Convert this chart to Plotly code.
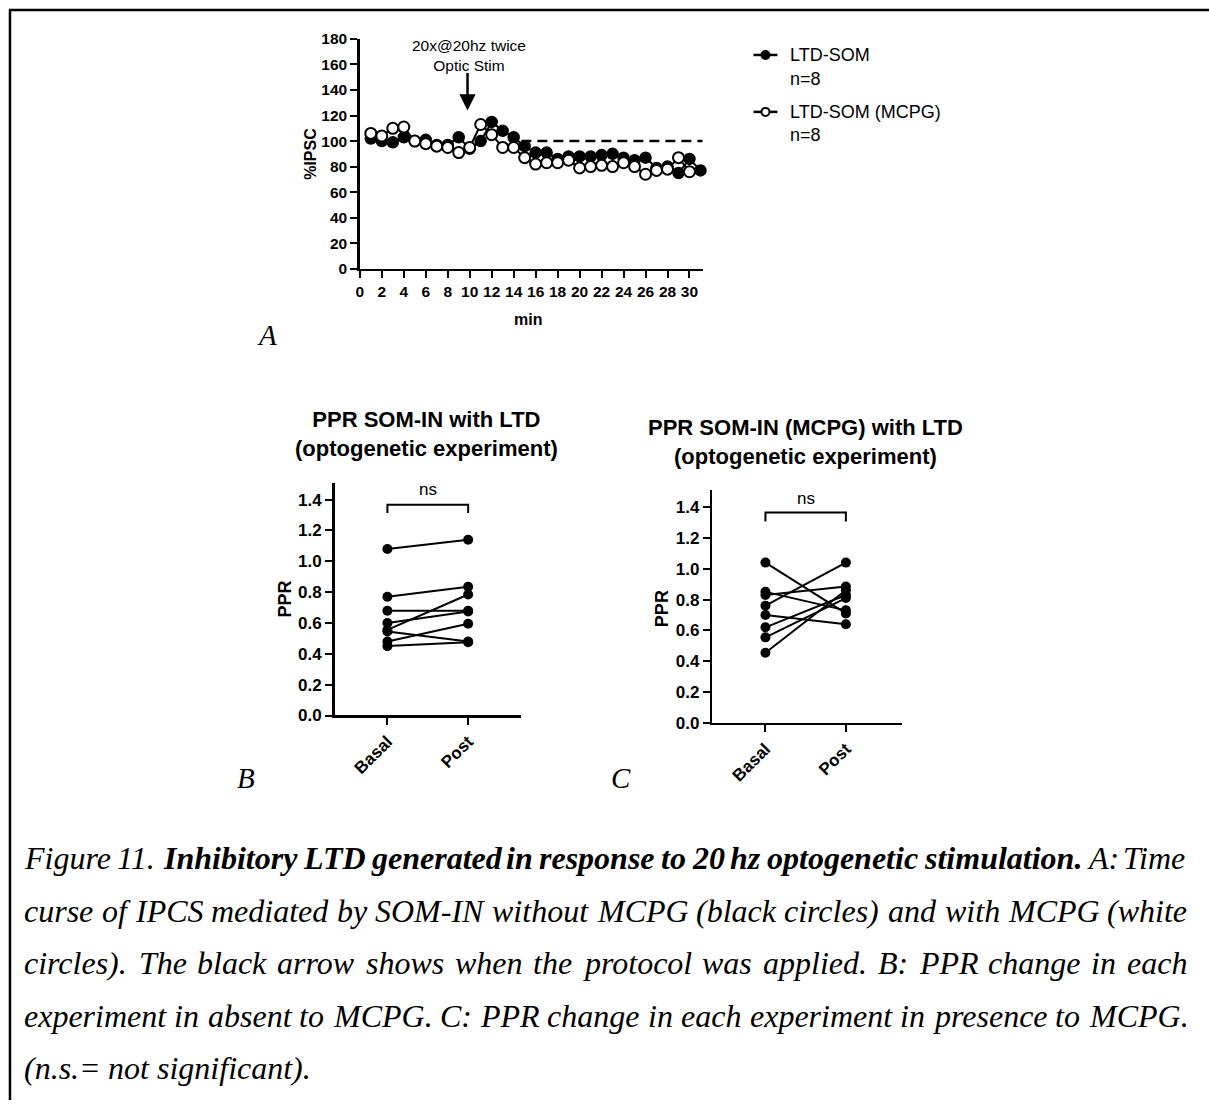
import plotly.graph_objects as go

W, H = 1209, 1110
# small empirical correction of the screenshot mapping
Y_SCALE, Y_OFF, X_OFF = 0.984, 7.0, 1.0


def px(x):
    return (x - X_OFF) / W


def py(y):
    return 1 - ((y - Y_OFF) / Y_SCALE) / H


# ---------------- data ----------------
time_min = list(range(1, 32))
ltd_som = [102, 100, 99, 103, 100, 101, 97, 97, 103, 94, 100, 115, 108, 103, 96, 91,
           91, 86, 88, 88, 88, 89, 90, 87, 85, 87, 79, 80, 75, 86, 77]
time_min_mcpg = list(range(1, 31))
ltd_som_mcpg = [106, 104, 110, 111, 100, 98, 96, 95, 91, 95, 113, 105, 95, 95, 87, 82,
                83, 83, 85, 79, 80, 81, 80, 83, 80, 74, 77, 78, 87, 76]
baseline_level = 100
stim_time = 9.8

conditions = ["Basal", "Post"]
ppr_b_basal = [1.08, 0.77, 0.68, 0.60, 0.555, 0.545, 0.48, 0.45]
ppr_b_post = [1.14, 0.835, 0.68, 0.675, 0.785, 0.48, 0.595, 0.475]
ppr_c_basal = [1.04, 0.85, 0.83, 0.76, 0.70, 0.62, 0.555, 0.455]
ppr_c_post = [0.71, 0.73, 0.885, 1.04, 0.64, 0.83, 0.81, 0.86]

caption = [
    [("Figure 11.", False),
     ("Inhibitory LTD generated in response to 20 hz optogenetic stimulation.", True),
     ("A: Time", False)],
    [("curse of IPCS mediated by SOM-IN without MCPG (black circles) and with MCPG (white", False)],
    [("circles). The black arrow shows when the protocol was applied. B: PPR change in each", False)],
    [("experiment in absent to MCPG. C: PPR change in each experiment in presence to MCPG.", False)],
    [("(n.s.= not significant).", False)],
]

SANS = "Liberation Sans, Arial, Helvetica, sans-serif"
SERIF = "Liberation Serif, Times New Roman, serif"

fig = go.Figure()

# Panel A
fig.add_trace(go.Scatter(
    x=time_min, y=ltd_som, mode="lines+markers", xaxis="x", yaxis="y",
    line=dict(color="black", width=2),
    marker=dict(symbol="circle", size=11, color="black", line=dict(color="black", width=1.5)),
    cliponaxis=False, showlegend=False, name="LTD-SOM"))
fig.add_trace(go.Scatter(
    x=time_min_mcpg, y=ltd_som_mcpg, mode="lines+markers", xaxis="x", yaxis="y",
    line=dict(color="black", width=2),
    marker=dict(symbol="circle", size=11, color="white", line=dict(color="black", width=2)),
    cliponaxis=False, showlegend=False, name="LTD-SOM (MCPG)"))

# Panels B and C
for xa, ya, basal, post in [("x2", "y2", ppr_b_basal, ppr_b_post),
                            ("x3", "y3", ppr_c_basal, ppr_c_post)]:
    for b, p in zip(basal, post):
        fig.add_trace(go.Scatter(
            x=[0, 1], y=[b, p], mode="lines+markers", xaxis=xa, yaxis=ya,
            line=dict(color="black", width=2),
            marker=dict(symbol="circle", size=10, color="black"),
            cliponaxis=False, showlegend=False))

axis_common = dict(showline=True, linewidth=2.5, linecolor="black", ticks="outside",
                   ticklen=7, tickwidth=2, tickcolor="black", showgrid=False,
                   zeroline=False, mirror=False)
tf_a = dict(family=SANS, size=15.5, color="black", weight="bold")
tf_b = dict(family=SANS, size=17, color="black", weight="bold")

fig.update_layout(
    width=W, height=H, margin=dict(l=0, r=0, t=0, b=0),
    paper_bgcolor="white", plot_bgcolor="white", showlegend=False,
    xaxis=dict(domain=[px(358), px(702)], range=[0, 31.2], anchor="y",
               tickvals=list(range(0, 31, 2)), tickfont=tf_a, **axis_common),
    yaxis=dict(domain=[py(267), py(37)], range=[0, 180], anchor="x",
               tickvals=list(range(0, 181, 20)), tickfont=tf_a, **axis_common),
    xaxis2=dict(domain=[px(332.7), px(520)], range=[-0.654, 1.658], anchor="y2",
                tickvals=[0, 1], ticktext=conditions, tickangle=-45,
                tickfont=tf_b, **axis_common),
    yaxis2=dict(domain=[py(714.3), py(481.7)], range=[0, 1.507], anchor="x2",
                tickvals=[0, 0.2, 0.4, 0.6, 0.8, 1.0, 1.2, 1.4], tickformat=".1f",
                tickfont=tf_b, **axis_common),
    xaxis3=dict(domain=[px(711.7), px(901.7)], range=[-0.66, 1.694], anchor="y3",
                tickvals=[0, 1], ticktext=conditions, tickangle=-45,
                tickfont=tf_b, **axis_common),
    yaxis3=dict(domain=[py(721.7), py(489)], range=[0, 1.508], anchor="x3",
                tickvals=[0, 0.2, 0.4, 0.6, 0.8, 1.0, 1.2, 1.4], tickformat=".1f",
                tickfont=tf_b, **axis_common),
)

shapes = []
shapes.append(dict(type="line", xref="x", yref="y", x0=14.7, x1=31.2,
                   y0=baseline_level, y1=baseline_level,
                   line=dict(color="black", width=2.5, dash="10px,6px")))
shapes.append(dict(type="path", xref="x2", yref="y2",
                   path="M 0 1.313 L 0 1.367 L 1 1.367 L 1 1.313",
                   line=dict(color="black", width=2)))
shapes.append(dict(type="path", xref="x3", yref="y3",
                   path="M 0 1.307 L 0 1.365 L 1 1.365 L 1 1.307",
                   line=dict(color="black", width=2)))
for ly, fill in [(53, "black"), (110, "white")]:
    shapes.append(dict(type="line", xref="paper", yref="paper",
                       x0=px(753), x1=px(777), y0=py(ly), y1=py(ly),
                       line=dict(color="black", width=2.5)))
    shapes.append(dict(type="circle", xref="paper", yref="paper",
                       x0=px(761), x1=px(769), y0=py(ly + 4), y1=py(ly - 4),
                       fillcolor=fill, line=dict(color="black", width=2)))
shapes.append(dict(type="line", xref="paper", yref="paper", x0=px(6), x1=1.0,
                   y0=py(8), y1=py(8), line=dict(color="black", width=2.5)))
shapes.append(dict(type="line", xref="paper", yref="paper", x0=px(7), x1=px(7),
                   y0=py(8), y1=0, line=dict(color="black", width=2.5)))

ann = []


def txt(x, y, text, size, family=SANS, weight="normal", style="normal", angle=0,
        xanchor="center", yanchor="middle", xref="paper", yref="paper"):
    ann.append(dict(x=x, y=y, xref=xref, yref=yref, text=text, showarrow=False,
                    xanchor=xanchor, yanchor=yanchor, textangle=angle,
                    borderpad=0, borderwidth=0,
                    font=dict(family=family, size=size, color="black",
                              weight=weight, style=style)))


txt(px(468), py(54), "20x@20hz twice<br>Optic Stim", 15.5)
ann.append(dict(x=stim_time, y=124, xref="x", yref="y", text="", showarrow=True,
                ax=0, ay=-39, arrowhead=2, arrowsize=1.3, arrowwidth=2.5,
                arrowcolor="black", standoff=0))
txt(px(309), py(152), "%IPSC", 16, weight="bold", angle=-90)
txt(px(527), py(318), "min", 16, weight="bold")
txt(px(790), py(53), "LTD-SOM", 18, xanchor="left")
txt(px(790), py(77), "n=8", 18, xanchor="left")
txt(px(790), py(110), "LTD-SOM (MCPG)", 18, xanchor="left")
txt(px(790), py(133), "n=8", 18, xanchor="left")

txt(px(425), py(432), "PPR SOM-IN with LTD<br>(optogenetic experiment)", 22, weight="bold")
txt(px(805), py(440), "PPR SOM-IN (MCPG) with LTD<br>(optogenetic experiment)", 22, weight="bold")
txt(0.5, 1.467, "ns", 17, xref="x2", yref="y2")
txt(0.5, 1.458, "ns", 17, xref="x3", yref="y3")
txt(px(283), py(598), "PPR", 18, weight="bold", angle=-90)
txt(px(662), py(607), "PPR", 18, weight="bold", angle=-90)

txt(px(265), py(333), "A", 29, family=SERIF, style="italic")
txt(px(244), py(777), "B", 29, family=SERIF, style="italic")
txt(px(620), py(777), "C", 29, family=SERIF, style="italic")

# ---------- caption, justified using Times italic metrics ----------
IT = {' ': 250, '.': 250, ',': 250, ':': 333, '(': 333, ')': 333, '-': 333, '=': 675,
      'A': 611, 'B': 611, 'C': 667, 'D': 722, 'E': 611, 'F': 611, 'G': 722, 'H': 722,
      'I': 333, 'J': 444, 'K': 667, 'L': 556, 'M': 833, 'N': 667, 'O': 722, 'P': 611,
      'Q': 722, 'R': 611, 'S': 500, 'T': 556, 'U': 722, 'V': 611, 'W': 833, 'X': 611,
      'Y': 556, 'Z': 556, 'a': 500, 'b': 500, 'c': 444, 'd': 500, 'e': 444, 'f': 278,
      'g': 500, 'h': 500, 'i': 278, 'j': 278, 'k': 444, 'l': 278, 'm': 722, 'n': 500,
      'o': 500, 'p': 500, 'q': 500, 'r': 389, 's': 389, 't': 278, 'u': 500, 'v': 444,
      'w': 667, 'x': 444, 'y': 444, 'z': 389}
BI = dict(IT)
BI.update({'I': 389, 'L': 611, 'T': 611, 'D': 722, 'f': 333, 'h': 556, 'm': 778,
           'n': 556, 'u': 556, 'y': 444})
CAP_SIZE = 32
CAP_LEFT, CAP_RIGHT = 21, 1188
caption_y = [857, 910, 962, 1015, 1067]


def wwidth(word, bold):
    tab = BI if bold else IT
    return sum(tab.get(ch, 500) for ch in word) * CAP_SIZE / 1000.0


for li, (segments, yy) in enumerate(zip(caption, caption_y)):
    words = []
    for seg, bold in segments:
        for w in seg.split(" "):
            if w:
                words.append((w, bold))
    widths = [wwidth(w, b) for w, b in words]
    if li < len(caption) - 1 and len(words) > 1:
        gap = (CAP_RIGHT - CAP_LEFT - sum(widths)) / (len(words) - 1)
    else:
        gap = 0.25 * CAP_SIZE
    xpos = CAP_LEFT
    for (w, b), wd in zip(words, widths):
        t = "<b>%s</b>" % w if b else w
        txt(px(xpos), py(yy), t, CAP_SIZE, family=SERIF, style="italic", xanchor="left")
        xpos += wd + gap

fig.update_layout(shapes=shapes, annotations=ann)
fig.write_html("out.html",
               config={"displayModeBar": False, "staticPlot": True},
               post_script="document.body.style.margin='0px';"
                           "document.body.style.padding='0px';"
                           "document.documentElement.style.overflow='hidden';")
